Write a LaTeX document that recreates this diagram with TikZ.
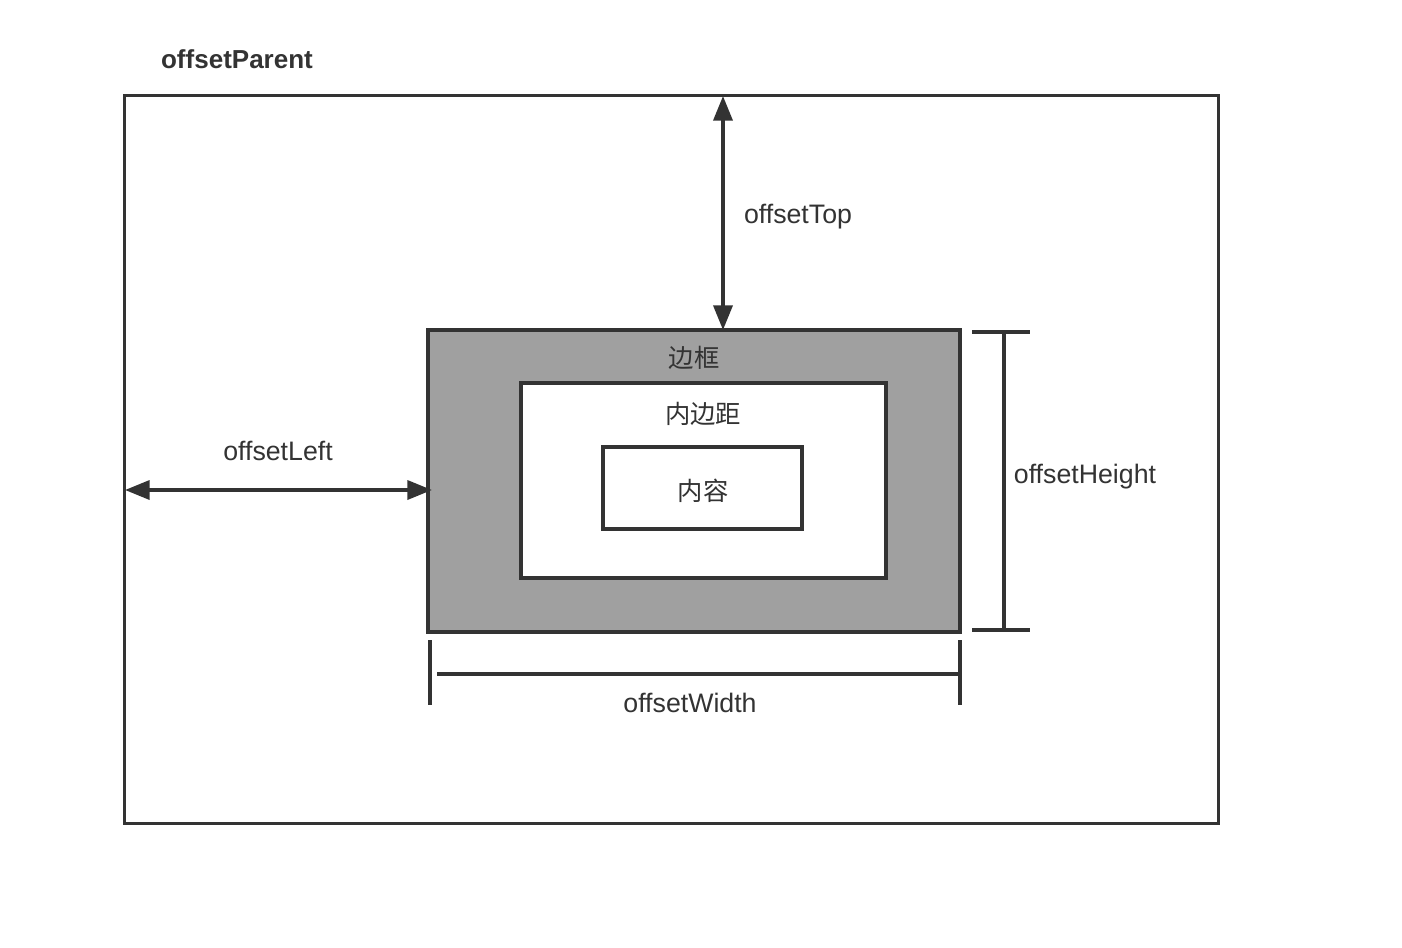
\documentclass[tikz,border=0pt]{standalone}
\usepackage{fontspec}
\setmainfont{Liberation Sans}
\newfontfamily\cjk{Noto Sans CJK SC}
\usetikzlibrary{arrows.meta}
\definecolor{ink}{HTML}{333333}
\definecolor{bordergray}{HTML}{A0A0A0}
\begin{document}
\begin{tikzpicture}[x=0.01cm,y=-0.01cm,
  box/.style={draw=ink,line width=0.95pt,inner sep=0pt,outer sep=0pt},
  lbl/.style={text=ink,font=\fontsize{7.6}{9}\selectfont,inner sep=0pt},
  cjklbl/.style={text=ink,font=\cjk\fontsize{7.2}{9}\selectfont,inner sep=0pt},
  dim/.style={draw=ink,line width=1pt},
  arr/.style={draw=ink,line width=1pt,{Triangle[length=7pt,width=5.4pt]}-{Triangle[length=7pt,width=5.4pt]}}]
\fill[white] (0,0) rectangle (1402,948);
\useasboundingbox (0,0) rectangle (1402,948);
% boxes
\node[box,minimum width=10.93cm,minimum height=7.27cm] (outer) at (671.5,459.5) {};
\node[box,fill=bordergray,minimum width=5.32cm,minimum height=3.02cm] (border) at (694,481) {};
\node[box,fill=white,minimum width=3.65cm,minimum height=1.95cm] (padding) at (703.5,480.5) {};
\node[box,fill=white,minimum width=1.99cm,minimum height=0.82cm] (content) at (702.5,488) {};
% labels
\node[lbl,font=\bfseries\fontsize{7.4}{9}\selectfont] (lparent) at (237,59) {offsetParent};
\node[cjklbl] (lborder) at (694,358) {边框};
\node[cjklbl] (lpadding) at (703,414) {内边距};
\node[cjklbl] (lcontent) at (703,491) {内容};
\node[lbl] (ltop) at (798,217) {offsetTop};
\node[lbl] (lleft) at (278,451) {offsetLeft};
\node[lbl] (lheight) at (1085,477) {offsetHeight};
\node[lbl] (lwidth) at (690,703) {offsetWidth};
% offsetTop
\coordinate (t1) at (723,96);
\coordinate (t2) at (723,330);
\draw[arr] (t1) -- (t2);
% offsetLeft
\coordinate (l1) at (125,490);
\coordinate (l2) at (432,490);
\draw[arr] (l1) -- (l2);
% offsetHeight
\coordinate (h1) at (1004,332);
\coordinate (h2) at (1004,630);
\coordinate (h1a) at (972,332);
\coordinate (h1b) at (1030,332);
\coordinate (h2a) at (972,630);
\coordinate (h2b) at (1030,630);
\draw[dim] (h1) -- (h2);
\draw[dim] (h1a) -- (h1b);
\draw[dim] (h2a) -- (h2b);
% offsetWidth
\coordinate (w1) at (437,674);
\coordinate (w2) at (960,674);
\coordinate (w1a) at (430,640);
\coordinate (w1b) at (430,705);
\coordinate (w2a) at (960,640);
\coordinate (w2b) at (960,705);
\draw[dim] (w1) -- (w2);
\draw[dim] (w1a) -- (w1b);
\draw[dim] (w2a) -- (w2b);
\end{tikzpicture}
\end{document}
